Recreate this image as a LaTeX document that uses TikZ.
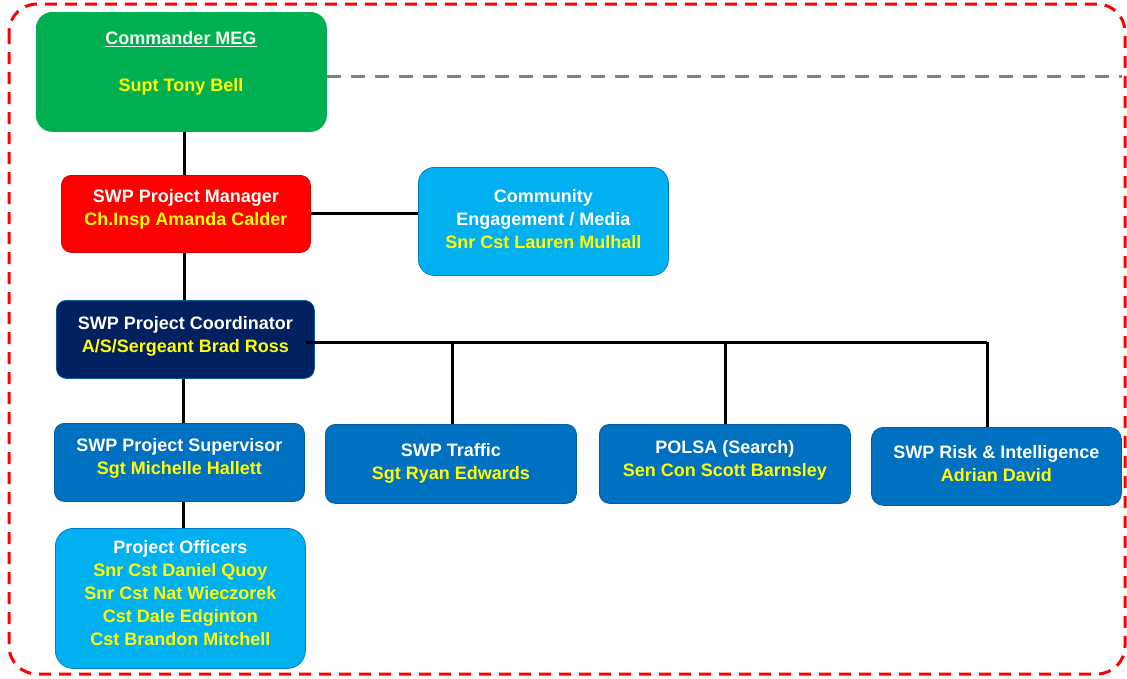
\documentclass[tikz,border=0pt]{standalone}
\usepackage{fontspec}
\setmainfont{Liberation Sans}
\definecolor{cgreen}{HTML}{00B050}
\definecolor{cred}{HTML}{FF0000}
\definecolor{clight}{HTML}{00B0F0}
\definecolor{cnavy}{HTML}{002060}
\definecolor{cblue}{HTML}{0070C0}
\definecolor{cyel}{HTML}{FFFF00}
\definecolor{cwhite}{HTML}{F0FAF0}
\begin{document}
\begin{tikzpicture}[x=1pt,y=-1pt,
  orgbox/.style={rounded corners=13pt, anchor=north west, inner sep=0pt, line width=0.8pt},
  orgtext/.style={align=center, text=white, inner sep=0pt,
    font=\bfseries\fontsize{18}{23}\selectfont},
  link/.style={line width=3pt, black}]
\useasboundingbox (0,0) rectangle (1127,678);
\fill[white] (0,0) rectangle (1127,678);
% outer red dashed frame
\draw[cred, line width=3pt, dash pattern=on 12pt off 8pt, rounded corners=28pt] (9,4) rectangle (1125,674);

% boxes
\node[orgbox, fill=cgreen, draw=cgreen, rounded corners=16pt, minimum width=290pt, minimum height=119pt] (cmd) at (36,12) {};
\node[orgbox, fill=cred, draw=red!85!black, rounded corners=10pt, minimum width=249pt, minimum height=77pt] (mgr) at (61,175) {};
\node[orgbox, fill=clight, draw=cblue!80!clight, rounded corners=16pt, minimum width=250pt, minimum height=108pt] (com) at (418,167) {};
\node[orgbox, fill=cnavy, draw=cblue!70!cnavy, rounded corners=10pt, minimum width=258pt, minimum height=78pt] (crd) at (56,300) {};
\node[orgbox, fill=cblue, draw=cblue!85!black, rounded corners=10pt, minimum width=250pt, minimum height=78pt] (sup) at (54,423) {};
\node[orgbox, fill=cblue, draw=cblue!85!black, rounded corners=10pt, minimum width=251pt, minimum height=79pt] (trf) at (325,424) {};
\node[orgbox, fill=cblue, draw=cblue!85!black, rounded corners=10pt, minimum width=251pt, minimum height=79pt] (pol) at (599,424) {};
\node[orgbox, fill=cblue, draw=cblue!85!black, rounded corners=12pt, minimum width=250pt, minimum height=78pt] (risk) at (871,427) {};
\node[orgbox, fill=clight, draw=cblue!80!clight, rounded corners=18pt, minimum width=250pt, minimum height=140pt] (off) at (55,528) {};

% texts
\node[orgtext, text=cwhite] (cmdt) at (181,39) {\underline{Commander MEG}};
\node[orgtext, text=cyel] (cmdn) at (181,87) {Supt Tony Bell};
\node[orgtext] (mgrt) at ([yshift=4.5pt]mgr.center) {SWP Project Manager\\\textcolor{cyel}{Ch.Insp Amanda Calder}};
\node[orgtext] (comt) at ([yshift=2pt]com.center) {Community\\Engagement / Media\\\textcolor{cyel}{Snr Cst Lauren Mulhall}};
\node[orgtext] (crdt) at ([yshift=3.5pt]crd.center) {SWP Project Coordinator\\\textcolor{cyel}{A/S/Sergeant Brad Ross}};
\node[orgtext] (supt) at ([yshift=4pt]sup.center) {SWP Project Supervisor\\\textcolor{cyel}{Sgt Michelle Hallett}};
\node[orgtext] (trft) at ([yshift=0.5pt]trf.center) {SWP Traffic\\\textcolor{cyel}{Sgt Ryan Edwards}};
\node[orgtext] (polt) at ([yshift=4pt]pol.center) {POLSA (Search)\\\textcolor{cyel}{Sen Con Scott Barnsley}};
\node[orgtext] (riskt) at ([yshift=3pt]risk.center) {SWP Risk \& Intelligence\\\textcolor{cyel}{Adrian David}};
\node[orgtext] (offt) at ([yshift=5pt]off.center) {Project Officers\\\textcolor{cyel}{Snr Cst Daniel Quoy}\\\textcolor{cyel}{Snr Cst Nat Wieczorek}\\\textcolor{cyel}{Cst Dale Edginton}\\\textcolor{cyel}{Cst Brandon Mitchell}};

% connectors
\coordinate (gd) at (1122,76);
\draw[gray, line width=3pt, dash pattern=on 14pt off 10pt] (cmd.east |- gd) -- (gd);
\coordinate (colA) at (184,0);
\coordinate (colB) at (183,0);
\draw[link] (cmd.south -| colA) -- (mgr.north -| colA);
\draw[link] (mgr.south -| colA) -- (crd.north -| colA);
\draw[link] (mgr.east) -- (com.west |- mgr.east);
\draw[link] (crd.south -| colB) -- (sup.north -| colB);
\draw[link] (sup.south -| colB) -- (off.north -| colB);
\coordinate (hr) at (987,342);
\draw[link] ([xshift=-9pt]crd.east |- hr) -- (hr);
\draw[link] (hr) -- (hr |- risk.north);
\coordinate (vt) at (452,342);
\coordinate (vp) at (725,342);
\draw[link] (vt) -- (vt |- trf.north);
\draw[link] (vp) -- (vp |- pol.north);
\end{tikzpicture}
\end{document}
